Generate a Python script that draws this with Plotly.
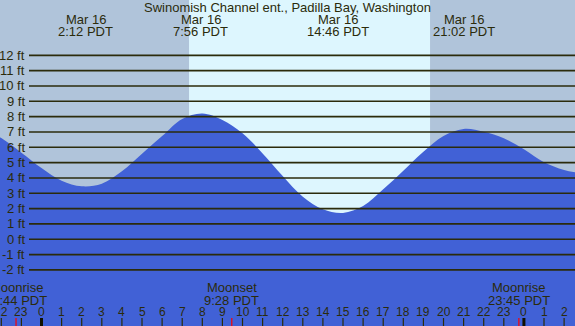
import plotly.graph_objects as go

# ---- data ----
hours = list(range(-3, 28))
tide_ft = [7.3, 6.6, 5.65, 4.65, 3.82, 3.45, 3.62, 4.43, 5.58, 6.73, 7.85, 8.2, 7.78, 6.91,
           5.6, 4.13, 2.78, 1.96, 1.72, 2.17, 3.26, 4.47, 5.71, 6.74, 7.2, 7.02, 6.59, 5.87,
           5.02, 4.52, 4.28]
extreme_hours = [2.2, 7.933, 14.767, 21.033, 26.9]
extreme_dates = ["Mar 16", "Mar 16", "Mar 16", "Mar 16", "Mar 17"]
extreme_times = ["2:12 PDT", "7:56 PDT", "14:46 PDT", "21:02 PDT", "2:54 PDT"]
moon_hours = [-1.267, 9.467, 23.75]
moon_names = ["Moonrise", "Moonset", "Moonrise"]
moon_times = ["22:44 PDT", "9:28 PDT", "23:45 PDT"]
sunrise_h = 7.34
sunset_h = 19.33
ft_levels = list(range(-2, 13))
tick_hours = list(range(-2, 27))
title = "Swinomish Channel ent., Padilla Bay, Washington"

# ---- style ----
W, H = 575, 326
x_range = [-2.065, 26.542]
y_range = [-5.66, 15.61]
NIGHT = "#B0C4DA"
DAY = "#DDF6FE"
BLUE = "#4161D6"
INK = "#2B2B0B"
FONT = "Liberation Sans, Arial, sans-serif"

def py(pix):
    return 1 - pix / H

fig = go.Figure()
base = [y_range[0] - 1] * len(hours)
fig.add_trace(go.Scatter(x=hours, y=base, mode="lines", line=dict(width=0),
                         hoverinfo="skip", showlegend=False))
fig.add_trace(go.Scatter(x=hours, y=tide_ft, mode="lines", line=dict(width=0, shape="spline", smoothing=1.0),
                         fill="tonexty", fillcolor=BLUE, hoverinfo="skip", showlegend=False))

shapes = []
shapes.append(dict(type="rect", xref="x", yref="paper", x0=sunrise_h, x1=sunset_h, y0=0, y1=1,
                   fillcolor=DAY, line=dict(width=0), layer="below"))
for f in ft_levels:
    shapes.append(dict(type="line", xref="paper", yref="y", x0=29 / W, x1=1, y0=f, y1=f,
                       line=dict(color=INK, width=1.6), layer="above"))
for h in tick_hours:
    thick = (h % 24 == 0)
    shapes.append(dict(type="line", xref="x", yref="paper", x0=h, x1=h, y0=0, y1=py(318),
                       line=dict(color="#111100" if thick else INK, width=3 if thick else 1.2),
                       layer="above"))
for m in moon_hours:
    shapes.append(dict(type="line", xref="x", yref="paper", x0=m, x1=m, y0=0, y1=py(318),
                       line=dict(color="#FF0000", width=1.2), layer="above"))

ann = []
ann.append(dict(text=title, x=0.5, y=py(7.5), xref="paper", yref="paper", showarrow=False,
                font=dict(size=13, color=INK, family=FONT), xanchor="center", yanchor="middle"))
for h, d, t in zip(extreme_hours, extreme_dates, extreme_times):
    ann.append(dict(text=d, x=h, y=py(19.5), xref="x", yref="paper", showarrow=False,
                    font=dict(size=13, color=INK, family=FONT), xanchor="center", yanchor="middle"))
    ann.append(dict(text=t, x=h, y=py(31.5), xref="x", yref="paper", showarrow=False,
                    font=dict(size=13, color=INK, family=FONT), xanchor="center", yanchor="middle"))
for f in ft_levels:
    ann.append(dict(text=f"{f} ft", x=27 / W, y=f, xref="paper", yref="y", showarrow=False,
                    font=dict(size=13, color=INK, family=FONT), xanchor="right", yanchor="middle"))
for m, n, t in zip(moon_hours, moon_names, moon_times):
    ann.append(dict(text=n, x=m, y=py(287.5), xref="x", yref="paper", showarrow=False,
                    font=dict(size=13, color=INK, family=FONT), xanchor="center", yanchor="middle"))
    ann.append(dict(text=t, x=m, y=py(300), xref="x", yref="paper", showarrow=False,
                    font=dict(size=13, color=INK, family=FONT), xanchor="center", yanchor="middle"))
for h in tick_hours:
    ann.append(dict(text=str(h % 24), x=h, y=py(311.5), xref="x", yref="paper", showarrow=False,
                    font=dict(size=12, color=INK, family=FONT), xanchor="center", yanchor="middle"))

fig.update_layout(
    width=W, height=H, margin=dict(l=0, r=0, t=0, b=0),
    paper_bgcolor=NIGHT, plot_bgcolor=NIGHT,
    xaxis=dict(range=x_range, visible=False, fixedrange=True),
    yaxis=dict(range=y_range, visible=False, fixedrange=True),
    shapes=shapes, annotations=ann, showlegend=False,
)
fig.write_html("out.html", config={"displayModeBar": False},
               post_script="document.body.style.margin='0px';document.body.style.overflow='hidden';")
